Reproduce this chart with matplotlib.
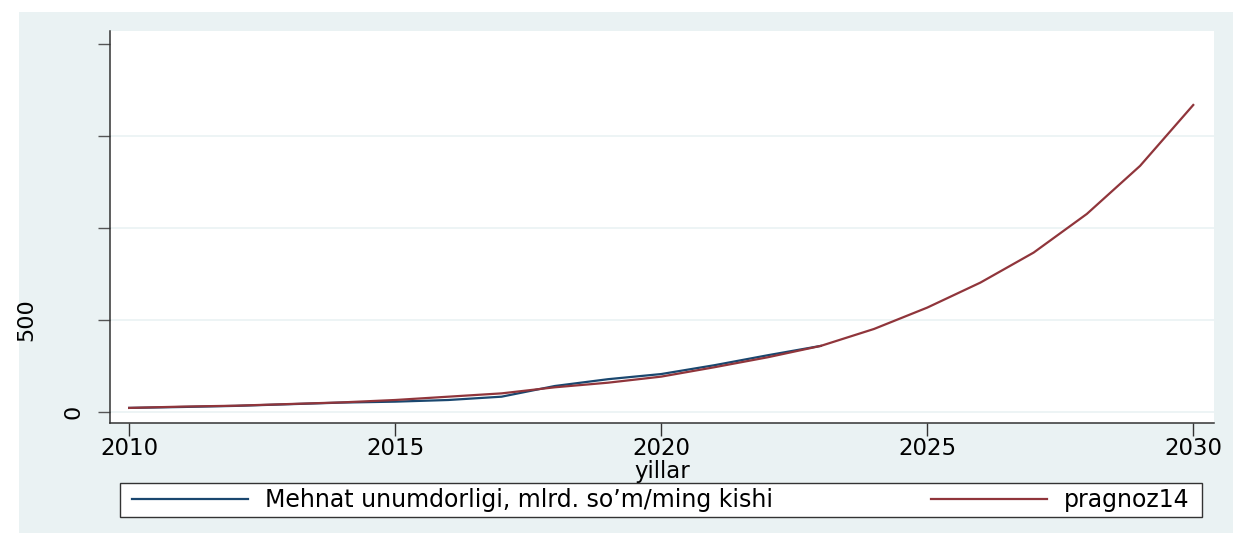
import matplotlib
matplotlib.use("Agg")
import matplotlib.pyplot as plt
from matplotlib.patches import Rectangle

years_actual = list(range(2010, 2024))
mehnat = [22, 27, 33, 42, 51, 56, 65, 83, 141, 178, 206, 254, 308, 359]

years_forecast = list(range(2010, 2031))
pragnoz14 = [22, 29, 34, 43, 52, 65, 83, 101, 134, 159, 192, 243, 297, 359,
             451, 567, 703, 866, 1076, 1337, 1668]

y_ticks = [0, 500, 1000, 1500, 2000]
y_ticklabels = ["0", "500", "", "", ""]
x_ticks = [2010, 2015, 2020, 2025, 2030]

navy = "#1a476f"
maroon = "#90353b"
bg = "#eaf2f3"

plt.rcParams['font.family'] = ['DejaVu Sans']

W, H = 1233, 533
fig = plt.figure(figsize=(W / 100, H / 100), dpi=100, facecolor="white")
fig.patches.append(Rectangle((19 / W, 0), 1 - 19 / W, 1 - 12 / H,
                             transform=fig.transFigure, facecolor=bg,
                             edgecolor="none", zorder=-10))

ax = fig.add_axes([110 / W, 1 - 423 / H, (1214 - 110) / W, (423 - 31) / H])
ax.set_facecolor("white")
ax.plot(years_actual, mehnat, color=navy, lw=1.6,
        label="Mehnat unumdorligi, mlrd. so\u2019m/ming kishi", zorder=3)
ax.plot(years_forecast, pragnoz14, color=maroon, lw=1.6, label="pragnoz14", zorder=3)

ax.set_xlim(2009.64, 2030.39)
ax.set_ylim(-60, 2070)
ax.set_yticks(y_ticks)
ax.set_yticklabels(y_ticklabels, rotation=90, va="center", fontsize=16)
ax.set_xticks(x_ticks)
ax.set_xticklabels([str(x) for x in x_ticks], fontsize=16.5)
ax.tick_params(axis="y", length=9, width=1, color="#555555", pad=10)
ax.tick_params(axis="x", length=9, width=1, color="#333333", pad=1)
ax.yaxis.get_major_ticks()[1].set_pad(44)
for g in [0, 500, 1000, 1500]:
    ax.axhline(g, color=bg, lw=1.2, zorder=1)
for s in ["top", "right"]:
    ax.spines[s].set_visible(False)
for s in ["left", "bottom"]:
    ax.spines[s].set_color("#333333")
    ax.spines[s].set_linewidth(1.1)

ax.set_xlabel("yillar", fontsize=16.5, labelpad=0)

# legend frame drawn separately
fig.patches.append(Rectangle((120 / W, 1 - 517 / H), (1202 - 120) / W, (517 - 483) / H,
                             transform=fig.transFigure, facecolor="white",
                             edgecolor="#333333", lw=1.0, zorder=-5))
leg = fig.legend(loc="center left", ncol=2, mode="expand",
                 bbox_to_anchor=(132 / W, 1 - 517 / H, (1190 - 132) / W, (517 - 483) / H),
                 fontsize=17, handlelength=4.9, handletextpad=0.75,
                 borderaxespad=0, borderpad=0, frameon=False)

fig.savefig("out.png", dpi=100, facecolor="white")
